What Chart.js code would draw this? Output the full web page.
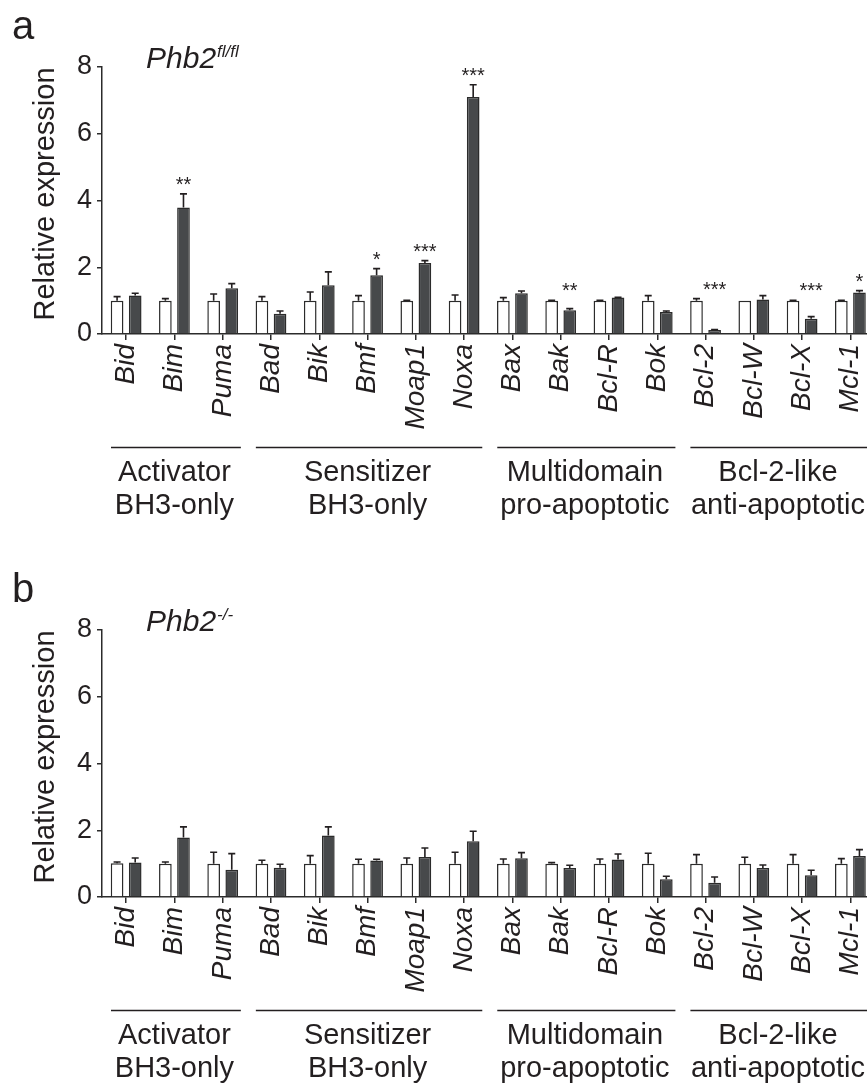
<!DOCTYPE html>
<html>
<head>
<meta charset="utf-8">
<script src="https://cdn.jsdelivr.net/npm/chart.js@4.4.1/dist/chart.umd.min.js"></script>
<style>
  html, body { margin: 0; padding: 0; background: #ffffff; }
  #wrap { position: relative; width: 867px; height: 1084px; overflow: hidden; background: #ffffff; }
  canvas { position: absolute; left: 0; }
  #ca { top: 0px; }
  #cb { top: 563px; }
</style>
</head>
<body>
<div id="wrap">
  <canvas id="ca" width="888" height="540"></canvas>
  <canvas id="cb" width="888" height="540"></canvas>
</div>
<script>
// ---------- data ----------
const categories = ['Bid','Bim','Puma','Bad','Bik','Bmf','Moap1','Noxa','Bax','Bak','Bcl-R','Bok','Bcl-2','Bcl-W','Bcl-X','Mcl-1'];
const groupLine1 = ['Activator','Sensitizer','Multidomain','Bcl-2-like'];
const groupLine2 = ['BH3-only','BH3-only','pro-apoptotic','anti-apoptotic'];
const groupFirst = [0, 3, 8, 12];
const groupLast  = [2, 7, 11, 15];
const yTicks = [0, 2, 4, 6, 8];

// panel a: Phb2 fl/fl
const ctrlA    = [1.00,1.00,1.00,1.00,1.00,1.00,1.00,1.00,1.00,1.00,1.00,1.00,1.00,1.00,1.00,1.00];
const ctrlErrA = [0.12,0.06,0.20,0.12,0.26,0.15,0.01,0.17,0.09,0.01,0.01,0.15,0.06,0.00,0.01,0.01];
const treatA    = [1.15,3.79,1.37,0.61,1.46,1.76,2.13,7.10,1.22,0.71,1.09,0.66,0.12,1.03,0.46,1.24];
const treatErrA = [0.07,0.41,0.14,0.08,0.40,0.20,0.07,0.37,0.07,0.05,0.01,0.03,0.01,0.12,0.06,0.06];
const starsA = ['','**','','','','*','***','***','','**','','','***','','***','*'];

// panel b: Phb2 -/-
const ctrlB    = [1.01,1.00,1.00,1.00,1.00,1.00,1.00,1.00,1.00,1.00,1.00,1.00,1.00,1.00,1.00,1.00];
const ctrlErrB = [0.04,0.05,0.34,0.10,0.24,0.13,0.17,0.34,0.14,0.03,0.14,0.31,0.27,0.19,0.27,0.15];
const treatB    = [1.03,1.78,0.82,0.88,1.84,1.09,1.20,1.67,1.16,0.87,1.12,0.53,0.43,0.87,0.65,1.23];
const treatErrB = [0.14,0.32,0.48,0.10,0.26,0.04,0.27,0.30,0.17,0.08,0.17,0.09,0.17,0.09,0.15,0.19];
const starsB = ['','','','','','','','','','','','','','','',''];

// ---------- styling ----------
const FONT = "'Liberation Sans', Arial, sans-serif";
const INK = '#231f20';
const AXIS = '#2b2b2b';

const annotPlugin = {
  id: 'annot',
  afterDatasetsDraw(chart) {
    const o = chart.options.plugins.annot;
    const ctx = chart.ctx;
    const ys = chart.scales.y, xs = chart.scales.x;
    const ca = chart.chartArea;
    ctx.save();
    // error bars (upward only)
    const errs = [o.errCtrl, o.errTreat];
    ctx.strokeStyle = INK;
    ctx.lineWidth = 1.6;
    [0, 1].forEach(di => {
      const meta = chart.getDatasetMeta(di);
      const vals = chart.data.datasets[di].data;
      meta.data.forEach((el, i) => {
        const e = errs[di][i];
        if (e <= 0.005) return;
        const y0 = ys.getPixelForValue(vals[i]);
        const y1 = ys.getPixelForValue(vals[i] + e);
        ctx.beginPath();
        ctx.moveTo(el.x, y0);
        ctx.lineTo(el.x, y1);
        ctx.moveTo(el.x - 3.5, y1);
        ctx.lineTo(el.x + 3.5, y1);
        ctx.stroke();
      });
    });
    // significance stars above the treated bar
    ctx.fillStyle = INK;
    ctx.font = '20px ' + FONT;
    ctx.textAlign = 'center';
    ctx.textBaseline = 'alphabetic';
    const m1 = chart.getDatasetMeta(1);
    o.stars.forEach((s, i) => {
      if (!s) return;
      const top = Math.max(
        chart.data.datasets[0].data[i] + o.errCtrl[i],
        chart.data.datasets[1].data[i] + o.errTreat[i]);
      const yp = ys.getPixelForValue(top);
      ctx.fillText(s, m1.data[i].x, yp - 3);
    });
    // group lines and labels
    const cw = xs.getPixelForValue(1) - xs.getPixelForValue(0);
    groupFirst.forEach((g0, gi) => {
      const g1 = groupLast[gi];
      const left = xs.getPixelForValue(g0) - cw / 2;
      const right = xs.getPixelForValue(g1) + cw / 2;
      const ly = ca.bottom + 113.5;
      ctx.strokeStyle = INK;
      ctx.lineWidth = 1.5;
      ctx.beginPath();
      ctx.moveTo(left + 9, ly);
      ctx.lineTo(right - 6, ly);
      ctx.stroke();
      ctx.font = '29px ' + FONT;
      ctx.textBaseline = 'middle';
      ctx.textAlign = 'center';
      const cx = (left + right) / 2;
      ctx.fillText(groupLine1[gi], cx, ca.bottom + 138.5);
      ctx.fillText(groupLine2[gi], cx, ca.bottom + 171.5);
    });
    // y axis title
    ctx.save();
    ctx.translate(46, ca.top + 127);
    ctx.rotate(-Math.PI / 2);
    ctx.font = '29px ' + FONT;
    ctx.textAlign = 'center';
    ctx.textBaseline = 'middle';
    ctx.fillText('Relative expression', 0, 0);
    ctx.restore();
    // panel letter
    ctx.font = '40px ' + FONT;
    ctx.textAlign = 'left';
    ctx.textBaseline = 'alphabetic';
    ctx.fillText(o.letter, 12, ca.top - 28);
    // panel title with superscript
    ctx.font = 'italic 30px ' + FONT;
    const tx = ca.left + 44;
    ctx.fillText(o.titleMain, tx, ca.top + 1);
    const w = ctx.measureText(o.titleMain).width;
    ctx.font = 'italic 17px ' + FONT;
    ctx.fillText(o.titleSup, tx + w + 1, ca.top - 10);
    ctx.restore();
  }
};

function makeChart(id, ctrl, ctrlErr, treat, treatErr, stars, letter, sup) {
  return new Chart(document.getElementById(id), {
    type: 'bar',
    data: {
      labels: categories,
      datasets: [
        { label: 'Control', data: ctrl, backgroundColor: '#ffffff', borderColor: AXIS, borderWidth: 1.5,
          categoryPercentage: 0.75, barPercentage: 0.7 },
        { label: 'Treated', data: treat, backgroundColor: '#47494b', borderColor: '#2b2b2b', borderWidth: 1.5,
          categoryPercentage: 0.75, barPercentage: 0.7 }
      ]
    },
    options: {
      responsive: false,
      animation: false,
      devicePixelRatio: 1,
      layout: { padding: { top: 67, left: 0, right: 0, bottom: 0 } },
      plugins: {
        legend: { display: false },
        tooltip: { enabled: false },
        annot: { errCtrl: ctrlErr, errTreat: treatErr, stars: stars, letter: letter, titleMain: 'Phb2', titleSup: sup }
      },
      scales: {
        x: {
          type: 'category',
          offset: true,
          grid: { offset: false, drawOnChartArea: false, drawTicks: true, tickLength: 6, color: AXIS, lineWidth: 1.5 },
          border: { display: true, color: AXIS, width: 1.5 },
          ticks: { autoSkip: false, minRotation: 90, maxRotation: 90, padding: 4, color: INK,
                   font: { family: FONT, size: 28, style: 'italic' } },
          afterFit(scale) { scale.height = 206; }
        },
        y: {
          min: 0, max: 8,
          afterBuildTicks(scale) { scale.ticks = yTicks.map(v => ({ value: v })); },
          grid: { drawOnChartArea: false, drawTicks: true, tickLength: 5, color: AXIS, lineWidth: 1.5 },
          border: { display: true, color: AXIS, width: 1.5 },
          ticks: { padding: 5, color: INK, font: { family: FONT, size: 27 } },
          afterFit(scale) { scale.width = 102; }
        }
      }
    },
    plugins: [annotPlugin]
  });
}

makeChart('ca', ctrlA, ctrlErrA, treatA, treatErrA, starsA, 'a', 'fl/fl');
makeChart('cb', ctrlB, ctrlErrB, treatB, treatErrB, starsB, 'b', '-/-');
</script>
</body>
</html>
